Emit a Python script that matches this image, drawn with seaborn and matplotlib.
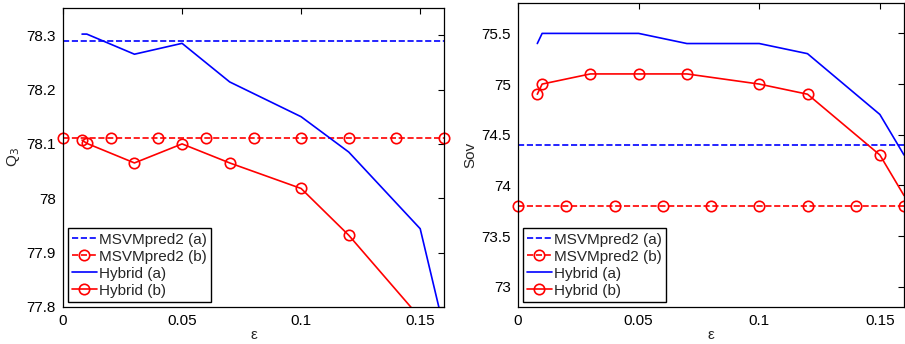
import numpy as np
import pandas as pd
import seaborn as sns
from matplotlib import pyplot as plt

# epsilon values
eps_hybrid = [0.008, 0.01, 0.03, 0.05, 0.07, 0.1, 0.12, 0.15, 0.16]
eps_base = [0.0, 0.02, 0.04, 0.06, 0.08, 0.1, 0.12, 0.14, 0.16]
eps_line = [0.0, 0.16]

# Q3 panel
q3_msvm_a = [78.29, 78.29]
q3_msvm_b = [78.11, 78.11, 78.11, 78.11, 78.11, 78.11, 78.11, 78.11, 78.11]
q3_hybrid_a = [78.302, 78.302, 78.265, 78.285, 78.214, 78.15, 78.085, 77.944, 77.76]
q3_hybrid_b = [78.107, 78.101, 78.065, 78.1, 78.065, 78.018, 77.932, 77.78, 77.70]

# Sov panel
sov_msvm_a = [74.4, 74.4]
sov_msvm_b = [73.8, 73.8, 73.8, 73.8, 73.8, 73.8, 73.8, 73.8, 73.8]
sov_hybrid_a = [75.4, 75.5, 75.5, 75.5, 75.4, 75.4, 75.3, 74.7, 74.3]
sov_hybrid_b = [74.9, 75.0, 75.1, 75.1, 75.1, 75.0, 74.9, 74.3, 73.9]

sns.set_style("white")
plt.rcParams['font.family'] = ['Liberation Sans', 'DejaVu Sans']
fs = 11

fig = plt.figure(figsize=(9.05, 3.44), dpi=100)
ax1 = fig.add_axes([63 / 905, 37 / 344, 381 / 905, 299 / 344])
ax2 = fig.add_axes([518 / 905, 37 / 344, 386 / 905, 304 / 344])

lw = 1.2
ms = 7.5


def draw(ax, msvm_a, msvm_b, hyb_a, hyb_b):
    sns.lineplot(x=eps_line, y=msvm_a, ax=ax, color='blue', linestyle='--',
                 dashes=(4, 3), lw=lw, label='MSVMpred2 (a)')
    base = sns.lineplot(x=eps_base, y=msvm_b, ax=ax, color='red',
                        linestyle='--', dashes=(4, 3), lw=lw, marker='o',
                        ms=ms, markerfacecolor='none', markeredgecolor='red',
                        markeredgewidth=lw, label='MSVMpred2 (b)')
    base.lines[-1].set_clip_on(False)
    ax.lines[0].set_clip_on(False)
    sns.lineplot(x=eps_hybrid, y=hyb_a, ax=ax, color='blue', lw=lw,
                 label='Hybrid (a)')
    sns.lineplot(x=eps_hybrid, y=hyb_b, ax=ax, color='red', lw=lw,
                 marker='o', ms=ms, markerfacecolor='none',
                 markeredgecolor='red', markeredgewidth=lw,
                 markevery=list(range(len(eps_hybrid) - 1)),
                 label='Hybrid (b)')
    ax.set_xlim(0, 0.16)
    ax.set_xticks([0, 0.05, 0.1, 0.15])
    ax.set_xticklabels(['0', '0.05', '0.1', '0.15'])
    ax.set_xlabel('ε', labelpad=0, fontsize=fs)
    ax.tick_params(direction='in', top=True, right=True, length=4,
                   width=0.8, colors='black', labelsize=fs, pad=5)
    for s in ax.spines.values():
        s.set_color('black')
        s.set_linewidth(0.9)
    leg = ax.legend(loc='lower left', fancybox=False, framealpha=1,
                    edgecolor='black', borderaxespad=0.3, borderpad=0.3,
                    labelspacing=0.2, handlelength=1.6, handletextpad=0.15,
                    fontsize=fs)
    leg.get_frame().set_linewidth(1.0)


draw(ax1, q3_msvm_a, q3_msvm_b, q3_hybrid_a, q3_hybrid_b)
ax1.set_ylim(77.8, 78.35)
ax1.set_yticks([77.8, 77.9, 78.0, 78.1, 78.2, 78.3])
ax1.set_yticklabels(['77.8', '77.9', '78', '78.1', '78.2', '78.3'])
ax1.set_ylabel('Q$_3$', labelpad=3, fontsize=fs)

draw(ax2, sov_msvm_a, sov_msvm_b, sov_hybrid_a, sov_hybrid_b)
ax2.set_ylim(72.8, 75.8)
ax2.set_yticks([73, 73.5, 74, 74.5, 75, 75.5])
ax2.set_yticklabels(['73', '73.5', '74', '74.5', '75', '75.5'])
ax2.set_ylabel('Sov', labelpad=3, fontsize=fs)

plt.savefig('out.png', dpi=100)
